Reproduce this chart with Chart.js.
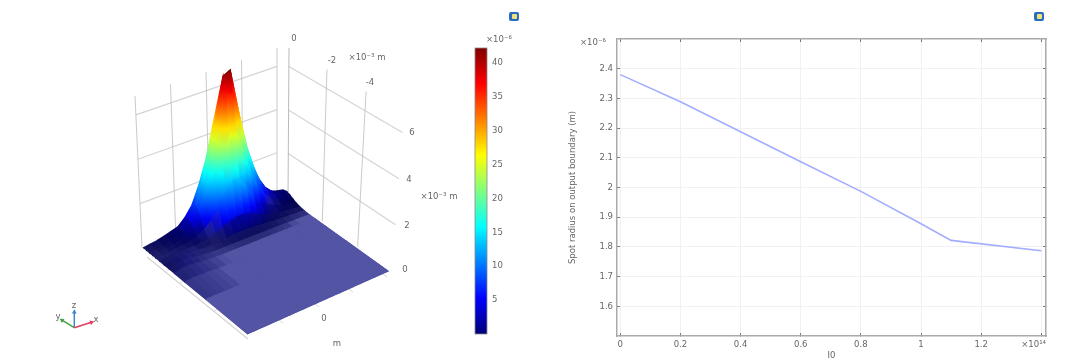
<!DOCTYPE html>
<html>
<head>
<meta charset="utf-8">
<script src="https://cdn.jsdelivr.net/npm/chart.js@4/dist/chart.umd.js"></script>
<style>
html,body{margin:0;padding:0;background:#fff;overflow:hidden}
#page{position:relative;width:1080px;height:361px}
canvas{position:absolute;filter:blur(.45px)}
#surface{filter:blur(.7px)}
.icon{position:absolute;top:12px;width:10px;height:9px;border-radius:2px;background:#2a6cc0;filter:blur(.5px)}
.icon i{position:absolute;left:3px;top:2px;width:5px;height:5px;border-radius:1px;background:#f3e27a}
</style>
</head>
<body>
<div id="page">
  <canvas id="surface" width="470" height="361" style="left:0;top:0"></canvas>
  <canvas id="colorbar" width="70" height="361" style="left:470px;top:0"></canvas>
  <canvas id="radius" width="540" height="361" style="left:540px;top:0"></canvas>
  <div class="icon" style="left:509px"><i></i></div>
  <div class="icon" style="left:1034px"><i></i></div>
</div>
<script>
// ─── DATA ───────────────────────────────────────────────────────────
const I0_VALUES=[0,0.2,0.4,0.6,0.8,1,1.1,1.4];
const SPOT_RADIUS=[2.38,2.289,2.188,2.087,1.987,1.878,1.822,1.787];
const X_TICKS=[0,0.2,0.4,0.6,0.8,1,1.2,1.4];
const Y_TICKS=[1.6,1.7,1.8,1.9,2,2.1,2.2,2.3,2.4];
const CBAR_RANGE=[0,42.2];
const CBAR_TICKS=[5,10,15,20,25,30,35,40];

// surface height (x10^-6), one row per V_ROWS entry, one column per U_COLS entry
const U_COLS=[0,.05,.1,.15,.2,.25,.3,.35,.4,.45,.5,.55,.6,.65,.7,.75,.8,.85,.9,.95,1];
const V_ROWS=[0,.03,.06,.09,.12,.16,.2,.25,.3,.4,.6,1];
const HEIGHTS=[
 [0,.3,.6,1.1,1.7,2.3,4.2,7,12,18.5,27.5,36.2,36.2,28,19,12.5,7.6,4.7,2.9,2.1,1.7],
 [0,.3,.7,1.2,1.9,2.5,4.7,7.9,13.6,20.5,31,41,42,31.5,21,14,8.6,5.2,3.3,2.3,1.9],
 [0,.3,.6,1.1,1.7,2.3,4.2,7,12,18.5,27.5,36.2,36.2,28,19,12.5,7.6,4.7,2.9,2.1,1.7],
 [0,.2,.5,.8,1.2,1.6,3,4.9,8.3,13,19,25.2,25.2,19.5,13.5,8.6,5.4,3.3,2.1,1.5,1.2],
 [0,.1,.3,.5,.8,1,1.8,2.8,4.6,7,10.5,13.6,13.6,10.5,7.5,4.8,3.1,2,1.2,.9,.7],
 [0,.2,.4,.5,.6,.6,.8,1.1,1.7,2.7,3.7,4.3,4.3,3.7,2.7,1.8,1.2,.9,.6,.4,.3],
 [0,.4,.7,.8,.7,.5,.3,.3,.4,.6,.9,1,1,.9,.7,.5,.4,.3,.2,.1,.1],
 [0,.6,1,.9,.5,.3,.15,.1,.1,.1,.1,.1,.1,.1,.1,.1,.1,.05,0,0,0],
 [0,.6,.7,.5,.3,.15,.05,0,0,0,0,0,0,0,0,0,0,0,0,0,0],
 [0,.3,.3,.2,.1,0,0,0,0,0,0,0,0,0,0,0,0,0,0,0,0],
 [0,0,0,0,0,0,0,0,0,0,0,0,0,0,0,0,0,0,0,0,0],
 [0,0,0,0,0,0,0,0,0,0,0,0,0,0,0,0,0,0,0,0,0]
];

// ─── HELPERS ────────────────────────────────────────────────────────
const FONT='"DejaVu Sans"';
const TXT='#666';
const JET=[[0,0,0,120],[.125,0,0,255],[.375,0,255,255],[.625,255,255,0],[.875,255,0,0],[1,128,0,0]];
function jet(t,sheen,dark){
  t=Math.min(1,Math.max(0,t));
  let i=0;
  while(i<JET.length-2&&t>JET[i+1][0])i++;
  const a=JET[i],b=JET[i+1],k=(t-a[0])/(b[0]-a[0]);
  const c=[1,2,3].map(n=>{
    const v=a[n]+(b[n]-a[n])*k;
    return (v+(sheen||0)*(255-v))*(1-(dark||0));
  });
  return 'rgb('+c.map(Math.round).join(',')+')';
}
const lerp=(a,b,t)=>[a[0]+(b[0]-a[0])*t,a[1]+(b[1]-a[1])*t];
// floor corners of the 3D view on the canvas
const F_LEFT=[143,248],F_BACK=[283,196],F_FRONT=[247,334],F_RIGHT=[388,271];
const Z_PX=3.55;
function project(u,v,z){
  const p=lerp(lerp(F_LEFT,F_BACK,u),lerp(F_FRONT,F_RIGHT,u),v);
  return {x:p[0],y:p[1]-z*Z_PX};
}
function segment(a,b,color,width){
  return {data:[{x:a[0],y:a[1]},{x:b[0],y:b[1]}],showLine:true,borderColor:color,borderWidth:width,pointRadius:0,tension:0};
}

// ─── 3D PANEL ───────────────────────────────────────────────────────
function wallLines(){
  const out=[];
  const C1='#d4d4d4',C2='#bdbdbd';
  // left wall
  const lb=[142,248],lt=[135,96],rb=[277,196],rt=[277,48];
  [2,4,6].forEach(z=>{const t=z/6.85;out.push(segment(lerp(lb,lt,t),lerp(rb,rt,t),C1,1.2));});
  [0,.25,.5,.75,1].forEach(s=>out.push(segment(lerp(lb,rb,s),lerp(lt,rt,s),C2,.8)));
  // right wall
  const bl=[288,197],tl=[289,48],br=[392,271],tr=[404,113];
  [2,4,6].forEach(z=>{const t=z/6.85;out.push(segment(lerp(bl,tl,t),lerp(br,tr,t),C1,1.2));});
  [0,.33,.67].forEach(s=>out.push(segment(lerp(bl,br,s),lerp(tl,tr,s),s?C2:'#a8a8a8',.8)));
  // floor frame and ticks
  out.push(segment([147,257],[248,339],C1,1.2));
  [[180,283,184,280],[213,312,217,309]].forEach(t=>out.push(segment([t[0],t[1]],[t[2],t[3]],C1,1)));
  [[283,323,279,320],[319,307,315,304],[353,292,349,289],[387,277,383,274]].forEach(t=>out.push(segment([t[0],t[1]],[t[2],t[3]],C1,1)));
  return out;
}
// gloss per cell: flat parts catch the light, slopes do not
const GLOSS_SPOTS=[[.4,.15,.05,.022,.34],[.82,.1,.04,.022,.3]];
function cellGloss(){
  const nr=V_ROWS.length-1,nc=U_COLS.length-1;
  const slope=[];
  for(let r=0;r<nr;r++){
    slope.push([]);
    for(let c=0;c<nc;c++){
      const a=HEIGHTS[r][c],b=HEIGHTS[r][c+1],d=HEIGHTS[r+1][c+1],e=HEIGHTS[r+1][c];
      slope[r].push(Math.hypot((b+d-a-e)/2/(U_COLS[c+1]-U_COLS[c]),(d+e-a-b)/2/(V_ROWS[r+1]-V_ROWS[r])));
    }
  }
  const raw=slope.map(row=>row.map(v=>Math.exp(-Math.pow(v/7,2))));
  let s=raw;
  for(let pass=0;pass<2;pass++){
    s=s.map((row,r)=>row.map((v,c)=>{
      let sum=0,n=0;
      for(let i=-1;i<=1;i++)for(let j=-1;j<=1;j++){
        if(s[r+i]&&s[r+i][c+j]!==undefined){sum+=s[r+i][c+j];n++;}
      }
      return sum/n;
    }));
  }
  return s.map((row,r)=>row.map((v,c)=>Math.max(v,Math.pow(raw[r][c],8))));
}
function surfaceCells(){
  const out=[];
  const gloss=cellGloss();
  for(let r=0;r<V_ROWS.length-1;r++){
    for(let c=0;c<U_COLS.length-1;c++){
      const z=[HEIGHTS[r][c],HEIGHTS[r][c+1],HEIGHTS[r+1][c+1],HEIGHTS[r+1][c]];
      const u0=U_COLS[c],u1=U_COLS[c+1],v0=V_ROWS[r],v1=V_ROWS[r+1];
      const pts=[project(u0,v0,z[0]),project(u1,v0,z[1]),project(u1,v1,z[2]),project(u0,v1,z[3])];
      const zTop=Math.max(...z),zLow=Math.min(...z);
      const yTop=Math.min(...pts.map(p=>p.y)),yLow=Math.max(...pts.map(p=>p.y));
      const fade=Math.max(0,1-zTop/6);
      let sheen=.33*gloss[r][c]*fade;
      GLOSS_SPOTS.forEach(g=>{
        const du=((u0+u1)/2-g[0])/g[2],dv=((v0+v1)/2-g[1])/g[3];
        sheen+=g[4]*Math.exp(-(du*du+dv*dv)/2)*Math.max(0,1-zTop/9);
      });
      const dark=.55*(1-gloss[r][c])*Math.max(0,1-zTop/9);
      const paint=ctx=>{
        const flat=jet((zTop+zLow)/2/CBAR_RANGE[1],sheen,dark);
        const sy=ctx.chart.scales.y;
        if(!sy||yLow-yTop<1||zTop-zLow<.5)return flat;
        const y0=sy.getPixelForValue(yTop),y1=sy.getPixelForValue(yLow);
        if(!isFinite(y0)||!isFinite(y1))return flat;
        const g=ctx.chart.ctx.createLinearGradient(0,y0,0,y1);
        for(let k=0;k<=4;k++)g.addColorStop(k/4,jet((zTop+(zLow-zTop)*k/4)/CBAR_RANGE[1],sheen,dark));
        return g;
      };
      out.push({data:pts,showLine:true,fill:'shape',backgroundColor:paint,borderColor:paint,borderWidth:1.3,pointRadius:0,tension:0});
    }
  }
  return out;
}
function floorBacking(){
  const c=jet(0,.33);
  const pts=[project(0,.3,0),project(1,.3,0),project(1,1,0),project(0,1,0)];
  return {data:pts,showLine:true,fill:'shape',backgroundColor:c,borderColor:c,borderWidth:1,pointRadius:0,tension:0};
}
function triadArm(tip,color,angle){
  const s=segment([74.3,327.7],tip,color,1.5);
  s.pointRadius=[0,2.8];s.pointStyle='triangle';s.pointRotation=angle;
  s.pointBackgroundColor=color;s.pointBorderWidth=0;
  return s;
}
const SURFACE_LABELS=[
  ['0',294,39],['-2',332,61],['-4',370,83],['×10⁻³ m',367,58],
  ['6',412,133],['4',409,180],['2',407,226],['0',405,270],['×10⁻³ m',439,197],
  ['0',324,319],['m',337,344],['z',74,306],['y',58,317],['x',96,320]
];
const surfaceText={id:'surfaceText',afterDatasetsDraw(chart){
  const {ctx,scales}=chart;
  ctx.save();
  ctx.font='8.5px '+FONT;ctx.fillStyle=TXT;ctx.textAlign='center';ctx.textBaseline='middle';
  SURFACE_LABELS.forEach(l=>ctx.fillText(l[0],scales.x.getPixelForValue(l[1]),scales.y.getPixelForValue(l[2])));
  ctx.restore();
}};
// chart.js paints the first dataset last, so back-to-front lists get reversed
const surfaceSets=[
  ...wallLines(),floorBacking(),...surfaceCells(),
  triadArm([74.3,312],'#3f86c8',0),triadArm([62,320.2],'#45a045',-58),triadArm([91.5,322.3],'#e23a62',73)
].reverse();
new Chart(document.getElementById('surface'),{
  type:'scatter',
  data:{datasets:surfaceSets},
  options:{responsive:false,animation:false,events:[],
    layout:{padding:0,autoPadding:false},
    plugins:{legend:{display:false},tooltip:{enabled:false}},
    scales:{x:{type:'linear',display:false,min:0,max:470},y:{type:'linear',display:false,min:0,max:361,reverse:true}}},
  plugins:[surfaceText]
});

// ─── COLOR BAR ──────────────────────────────────────────────────────
const cbarFrame={id:'cbarFrame',afterDraw(chart){
  const {ctx,chartArea:a}=chart;
  ctx.save();
  ctx.font='8.5px '+FONT;ctx.fillStyle=TXT;ctx.textAlign='left';ctx.textBaseline='middle';
  ctx.fillText('×10⁻⁶',a.left+11,a.top-8);
  ctx.strokeStyle='#8a8a8a';ctx.lineWidth=.8;
  ctx.strokeRect(a.left,a.top,a.right-a.left,a.bottom-a.top);
  ctx.restore();
}};
new Chart(document.getElementById('colorbar'),{
  type:'bar',
  data:{labels:['c'],datasets:[{data:[CBAR_RANGE],barPercentage:1,categoryPercentage:1,
    backgroundColor(ctx){
      const a=ctx.chart.chartArea;
      if(!a||!isFinite(a.top)||!isFinite(a.bottom))return '#00f';
      const g=ctx.chart.ctx.createLinearGradient(0,a.bottom,0,a.top);
      JET.forEach(s=>g.addColorStop(s[0],jet(s[0])));
      return g;
    }}]},
  options:{responsive:false,animation:false,events:[],
    layout:{padding:{left:5,top:48,bottom:27,right:0}},
    plugins:{legend:{display:false},tooltip:{enabled:false}},
    scales:{
      x:{display:false},
      y:{position:'right',min:CBAR_RANGE[0],max:CBAR_RANGE[1],
        afterBuildTicks(s){s.ticks=CBAR_TICKS.map(v=>({value:v}));},
        afterFit(s){s.width=53;},
        grid:{drawOnChartArea:false,tickLength:-3,tickColor:'#333'},
        border:{display:false},
        ticks:{autoSkip:false,maxRotation:0,padding:8,color:TXT,font:{family:FONT,size:8.5},callback:v=>String(v)}}
    }},
  plugins:[cbarFrame]
});

// ─── SPOT RADIUS PANEL ──────────────────────────────────────────────
const radiusText={id:'radiusText',afterDraw(chart){
  const {ctx}=chart;
  ctx.save();
  ctx.font='8.5px '+FONT;ctx.fillStyle=TXT;ctx.textBaseline='middle';
  ctx.textAlign='left';ctx.fillText('×10⁻⁶',40,43);
  ctx.textAlign='right';ctx.fillText('×10¹⁴',506,345);
  ctx.restore();
}};
const X_RANGE=[-0.011,1.4156],Y_RANGE=[1.5,2.5];
const frameAxis=(pos,range,ticks)=>({
  type:'linear',position:pos,min:range[0],max:range[1],
  afterBuildTicks(s){s.ticks=ticks.map(v=>({value:v}));},
  afterFit(s){if(s.isHorizontal())s.height=0;else s.width=0;},
  grid:{drawOnChartArea:false,tickLength:-3,tickColor:'#777'},
  border:{color:'#aaa',width:1.5},
  ticks:{display:false}
});
new Chart(document.getElementById('radius'),{
  type:'line',
  data:{datasets:[{data:I0_VALUES.map((x,i)=>({x,y:SPOT_RADIUS[i]})),borderColor:'#a3adff',borderWidth:1.6,pointRadius:0,tension:0}]},
  options:{responsive:false,animation:false,events:[],
    layout:{padding:{top:39,right:34,left:28,bottom:0}},
    plugins:{legend:{display:false},tooltip:{enabled:false}},
    scales:{
      x:{type:'linear',min:X_RANGE[0],max:X_RANGE[1],
        afterBuildTicks(s){s.ticks=X_TICKS.map(v=>({value:v}));},
        afterFit(s){s.height=25;},
        grid:{color:'#f1f1f1',tickLength:-3,tickColor:'#777'},
        border:{color:'#aaa',width:1.5},
        title:{display:true,text:'I0',color:TXT,font:{family:FONT,size:8.5},padding:{top:0,bottom:0}},
        ticks:{autoSkip:false,maxRotation:0,padding:7,color:TXT,font:{family:FONT,size:8.5},callback:v=>v===1.4?'':String(v)}},
      y:{type:'linear',min:Y_RANGE[0],max:Y_RANGE[1],
        afterBuildTicks(s){s.ticks=Y_TICKS.map(v=>({value:v}));},
        afterFit(s){s.width=49;},
        grid:{color:'#f1f1f1',tickLength:-3,tickColor:'#777'},
        border:{color:'#aaa',width:1.5},
        title:{display:true,text:'Spot radius on output boundary (m)',color:TXT,font:{family:FONT,size:8.5},padding:{top:0,bottom:0}},
        ticks:{autoSkip:false,maxRotation:0,padding:7,color:TXT,font:{family:FONT,size:8.5},callback:v=>String(v)}},
      x2:frameAxis('top',X_RANGE,X_TICKS),
      y2:frameAxis('right',Y_RANGE,Y_TICKS)
    }},
  plugins:[radiusText]
});
</script>
</body>
</html>
